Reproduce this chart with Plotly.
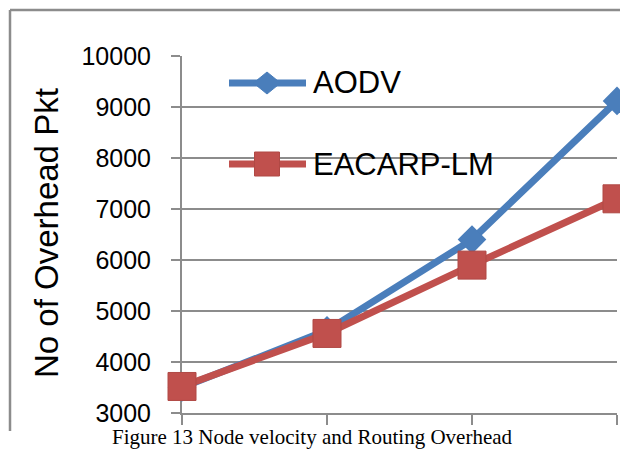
import plotly.graph_objects as go

# Routing overhead (number of overhead packets) at four node-velocity settings
velocity_steps = ["v1", "v2", "v3", "v4"]
aodv = [3500, 4620, 6400, 9120]
eacarp_lm = [3520, 4560, 5900, 7200]

series_names = ["AODV", "EACARP-LM"]
y_ticks = [3000, 4000, 5000, 6000, 7000, 8000, 9000, 10000]
y_tick_text = ["3000", "4000", "5000", "6000", "7000", "8000", "9000", "10000"]
y_title = "No of Overhead Pkt"
caption = "Figure 13 Node velocity and Routing Overhead"

BLUE = "#4A7EBB"
RED = "#C0504D"
GRID = "#8C8C8C"

W, H = 620, 449
ML, MR, MT, MB = 182, 3, 56, 36
PW, PH = W - ML - MR, H - MT - MB


def px(x):
    """pixel x -> paper x"""
    return (x - ML) / PW


def py(y):
    """pixel y -> paper y"""
    return (H - MB - y) / PH


fig = go.Figure()
fig.add_trace(go.Scatter(
    x=velocity_steps, y=aodv, name=series_names[0], mode="lines+markers",
    line=dict(color=BLUE, width=7),
    marker=dict(symbol="diamond", size=22, color=BLUE),
    cliponaxis=False,
))
fig.add_trace(go.Scatter(
    x=velocity_steps, y=eacarp_lm, name=series_names[1], mode="lines+markers",
    line=dict(color=RED, width=7),
    marker=dict(symbol="square", size=28, color=RED, line=dict(color="#B04945", width=1)),
    cliponaxis=False,
))

frame = dict(color=GRID, width=2.5)
shapes = [
    # chart frame: top and left edges
    dict(type="line", xref="paper", yref="paper",
         x0=px(10), x1=px(660), y0=py(10), y1=py(10), line=frame, layer="below"),
    dict(type="line", xref="paper", yref="paper",
         x0=px(10), x1=px(10), y0=py(10), y1=py(431), line=frame, layer="below"),
]

# in-plot legend: line sample with marker, then label
legend_rows = [(83, BLUE, "diamond"), (164, RED, "square")]
annotations = []
for (ly, col, sym), name in zip(legend_rows, series_names):
    shapes.append(dict(type="line", xref="paper", yref="paper",
                       x0=px(229), x1=px(306), y0=py(ly), y1=py(ly),
                       line=dict(color=col, width=7)))
    cx = 267
    if sym == "diamond":
        path = "M {} {} L {} {} L {} {} L {} {} Z".format(
            px(cx - 13.5), py(ly), px(cx), py(ly - 11),
            px(cx + 13.5), py(ly), px(cx), py(ly + 11))
        shapes.append(dict(type="path", xref="paper", yref="paper", path=path,
                           fillcolor=col, line=dict(color=col, width=1)))
    else:
        shapes.append(dict(type="rect", xref="paper", yref="paper",
                           x0=px(cx - 12.5), x1=px(cx + 12.5),
                           y0=py(ly + 12), y1=py(ly - 12),
                           fillcolor=col, line=dict(color="#B04945", width=1)))
    annotations.append(dict(text=name, xref="paper", yref="paper",
                            x=px(311), y=py(ly), xanchor="left", yanchor="middle",
                            showarrow=False,
                            font=dict(family="Liberation Sans", size=31, color="black")))

annotations.append(dict(text=y_title, xref="paper", yref="paper",
                        x=px(46), y=py(233), xanchor="center", yanchor="middle",
                        textangle=-90, showarrow=False,
                        font=dict(family="Liberation Sans", size=33, color="black")))
annotations.append(dict(text=caption, xref="paper", yref="paper",
                        x=px(312), y=py(437), xanchor="center", yanchor="middle",
                        showarrow=False,
                        font=dict(family="Liberation Serif", size=21, color="black")))

fig.update_layout(
    width=W, height=H,
    margin=dict(l=ML, r=MR, t=MT, b=MB, pad=0),
    paper_bgcolor="white", plot_bgcolor="white",
    showlegend=False,
    shapes=shapes, annotations=annotations,
    xaxis=dict(
        type="category", range=[0, 3],
        showgrid=False, showline=True, linecolor=GRID, linewidth=2,
        ticks="outside", ticklen=10, tickwidth=2, tickcolor=GRID,
        showticklabels=False, zeroline=False, layer="below traces",
    ),
    yaxis=dict(
        range=[3000, 10000], tickvals=y_ticks, ticktext=y_tick_text,
        showgrid=True, gridcolor=GRID, gridwidth=2,
        showline=True, linecolor=GRID, linewidth=2,
        ticks="outside", ticklen=9, tickwidth=2, tickcolor=GRID,
        ticklabelstandoff=15,
        tickfont=dict(family="Liberation Sans", size=25, color="black"),
        zeroline=False, layer="below traces",
    ),
)

fig.write_html("out.html")
